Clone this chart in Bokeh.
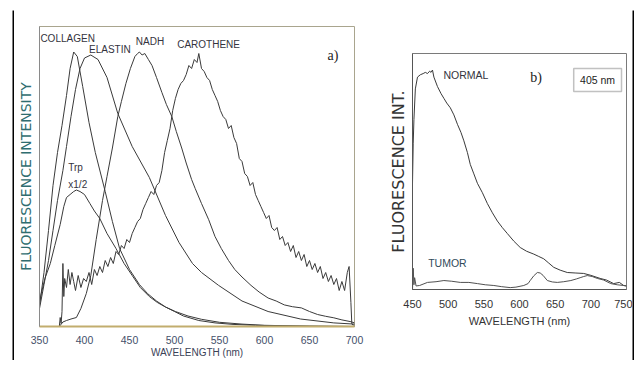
from bokeh.plotting import figure
from bokeh.models import Range1d, FixedTicker, Label, BoxAnnotation, Div
from bokeh.layouts import row, column
from bokeh.embed import file_html
from bokeh.resources import INLINE

# ---------------- Panel a) : emission spectra of tissue fluorophores ----------------
coll_wl = [350, 355, 360, 365, 370, 375, 380, 384, 388, 392, 398, 405, 412, 423, 431, 439, 450, 461,
           470, 480, 490, 501, 515, 530, 550, 575, 600, 650, 700]
coll_v = [0.07, 0.18, 0.32, 0.47, 0.58, 0.67, 0.77, 0.86, 0.915, 0.90, 0.80, 0.68, 0.58, 0.45, 0.35,
          0.26, 0.19, 0.14, 0.11, 0.085, 0.065, 0.05, 0.035, 0.024, 0.014, 0.008, 0.004, 0.001, 0.0]

el_wl = [350, 355, 360, 365, 370, 376, 380, 385, 390, 395, 400, 407, 415, 425, 437, 453, 472, 490,
         505, 520, 530, 549, 575, 604, 640, 677, 700]
el_v = [0.06, 0.14, 0.22, 0.32, 0.42, 0.52, 0.60, 0.70, 0.79, 0.86, 0.895, 0.905, 0.89, 0.83, 0.71,
        0.60, 0.497, 0.37, 0.28, 0.21, 0.18, 0.137, 0.085, 0.05, 0.025, 0.012, 0.008]

nadh_wl = [372, 376, 380, 385, 391, 396, 402, 407, 413, 420, 425, 431, 437, 441, 446, 451, 456, 459,
           461, 464, 467, 471, 475, 480, 486, 491, 497, 502, 508, 513, 519, 523, 530, 538, 545, 552,
           560, 567, 575, 585, 594, 604, 613, 622, 631, 641, 650, 659, 668, 677, 686, 696, 700]
nadh_v = [0.0, 0.015, 0.02, 0.025, 0.03, 0.06, 0.11, 0.17, 0.29, 0.42, 0.50, 0.595, 0.70, 0.75, 0.81,
          0.86, 0.90, 0.91, 0.915, 0.905, 0.91, 0.89, 0.87, 0.83, 0.78, 0.74, 0.70, 0.65, 0.595, 0.545,
          0.49, 0.46, 0.41, 0.356, 0.30, 0.26, 0.22, 0.19, 0.165, 0.137, 0.115, 0.095, 0.085, 0.072,
          0.066, 0.062, 0.05, 0.04, 0.034, 0.029, 0.022, 0.016, 0.012]

car_wl = [372, 373, 374, 375, 376, 377, 378, 380, 382, 384, 386, 388, 390, 393, 396, 399, 402, 405,
          408, 411, 414, 417, 420, 423, 426, 429, 432, 435, 438, 441, 444, 447, 450, 453, 456, 459,
          462, 465, 468, 471, 474, 477, 480, 483, 486, 489, 492, 495, 498, 501, 504, 507, 510, 513,
          516, 519, 522, 525, 527, 530, 533, 536, 539, 542, 545, 548, 551, 554, 557, 560, 563, 566,
          569, 572, 575, 578, 581, 584, 587, 590, 593, 596, 599, 602, 605, 608, 611, 614, 617, 620,
          623, 626, 629, 632, 635, 638, 641, 644, 647, 650, 653, 656, 659, 662, 665, 668, 671, 674,
          677, 680, 683, 686, 689, 692, 694, 696, 697, 698, 700]
car_v = [0.0, 0.03, 0.01, 0.05, 0.21, 0.10, 0.16, 0.13, 0.19, 0.14, 0.18, 0.15, 0.12, 0.17, 0.13, 0.16,
         0.15, 0.18, 0.14, 0.19, 0.17, 0.20, 0.18, 0.22, 0.20, 0.23, 0.21, 0.25, 0.24, 0.27, 0.26, 0.29,
         0.28, 0.31, 0.33, 0.35, 0.36, 0.39, 0.41, 0.43, 0.45, 0.44, 0.47, 0.48, 0.52, 0.58, 0.62, 0.66,
         0.72, 0.76, 0.79, 0.81, 0.82, 0.84, 0.87, 0.86, 0.89, 0.88, 0.91, 0.86, 0.85, 0.83, 0.82, 0.79,
         0.77, 0.75, 0.72, 0.70, 0.69, 0.66, 0.67, 0.63, 0.61, 0.56, 0.55, 0.51, 0.50, 0.47, 0.48, 0.44,
         0.42, 0.40, 0.38, 0.36, 0.37, 0.33, 0.32, 0.33, 0.29, 0.30, 0.27, 0.28, 0.25, 0.27, 0.23, 0.25,
         0.22, 0.24, 0.20, 0.22, 0.19, 0.21, 0.18, 0.20, 0.16, 0.18, 0.15, 0.17, 0.14, 0.16, 0.12, 0.15,
         0.12, 0.18, 0.20, 0.08, 0.01, 0.005, 0.005]

trp_wl = [350, 352, 356, 362, 367, 373, 377, 380, 384, 388, 391, 395, 400, 406, 411, 417, 425, 435,
          444, 453, 462, 472, 481, 490, 500, 510, 527, 545, 565, 590, 620, 660, 700]
trp_v = [0.08, 0.11, 0.16, 0.21, 0.27, 0.34, 0.40, 0.43, 0.44, 0.45, 0.455, 0.45, 0.44, 0.41, 0.385,
         0.36, 0.31, 0.26, 0.21, 0.17, 0.13, 0.10, 0.08, 0.065, 0.05, 0.035, 0.02, 0.012, 0.007, 0.004,
         0.002, 0.001, 0.0]

ticks_a = [350, 400, 450, 500, 550, 600, 650, 700]

# ---------------- Panel b) : tissue spectra at 405 nm excitation ----------------
normal_wl = [450, 451, 452, 454, 457, 461, 465, 468, 471, 474, 476, 478, 480, 485, 490, 494, 498, 503,
             508, 513, 518, 522, 527, 531, 536, 541, 548, 555, 562, 569, 576, 583, 592, 601, 610, 620,
             627, 634, 641, 648, 657, 667, 678, 690, 700, 713, 722, 732, 740, 746, 750]
normal_v = [0.45, 0.62, 0.72, 0.85, 0.90, 0.91, 0.915, 0.92, 0.915, 0.925, 0.92, 0.93, 0.90, 0.86, 0.83,
            0.81, 0.79, 0.77, 0.74, 0.70, 0.665, 0.63, 0.58, 0.53, 0.49, 0.45, 0.41, 0.364, 0.325, 0.29,
            0.262, 0.237, 0.205, 0.178, 0.162, 0.15, 0.14, 0.13, 0.112, 0.094, 0.082, 0.072, 0.07,
            0.068, 0.06, 0.047, 0.04, 0.025, 0.03, 0.017, 0.015]

tumor_wl = [450, 451, 452, 453, 455, 460, 471, 483, 494, 505, 517, 529, 541, 552, 564, 575, 587, 595,
            606, 612, 615, 620, 625, 629, 633, 639, 646, 653, 662, 672, 680, 685, 690, 695, 702, 709,
            718, 728, 737, 746, 750]
tumor_v = [0.0, 0.09, 0.02, 0.05, 0.015, 0.017, 0.03, 0.033, 0.038, 0.035, 0.03, 0.03, 0.025, 0.02,
           0.017, 0.012, 0.008, 0.01, 0.017, 0.025, 0.038, 0.058, 0.072, 0.07, 0.06, 0.038, 0.032, 0.03,
           0.033, 0.038, 0.045, 0.05, 0.055, 0.059, 0.055, 0.047, 0.04, 0.025, 0.02, 0.017, 0.015]

ticks_b = [450, 500, 550, 600, 650, 700, 750]

SANS = "Liberation Sans"
LINE = "#3a3a3a"
TXT = "#33333d"

# ---------------- figure a ----------------
p1 = figure(width=356, height=350, output_backend="svg", toolbar_location=None,
            x_range=Range1d(350, 700), y_range=Range1d(0, 1),
            min_border_left=22, min_border_right=16, min_border_top=16, min_border_bottom=28)
p1.frame_align = False
p1.margin = 0
p1.grid.visible = False
p1.outline_line_color = "#a9a58e"

for xs, ys in [(coll_wl, coll_v), (el_wl, el_v), (nadh_wl, nadh_v), (car_wl, car_v), (trp_wl, trp_v)]:
    p1.line(xs, ys, line_color=LINE, line_width=1)

xa = p1.xaxis[0]
xa.ticker = FixedTicker(ticks=ticks_a)
xa.axis_line_color = "#c2ad6e"
xa.axis_line_width = 2
xa.major_tick_line_color = None
xa.minor_tick_line_color = None
xa.major_label_standoff = 3
xa.major_label_text_font = SANS
xa.major_label_text_font_size = "10.5px"
xa.major_label_text_color = "#45506a"
xa.axis_label = "WAVELENGTH (nm)"
xa.axis_label_standoff = 0
xa.axis_label_text_font = SANS
xa.axis_label_text_font_size = "10px"
xa.axis_label_text_font_style = "normal"
xa.axis_label_text_color = "#3a4256"

ya = p1.yaxis[0]
ya.ticker = FixedTicker(ticks=[])
ya.axis_line_color = "#8a8a8a"
ya.minor_tick_line_color = None
ya.axis_label = "FLUORESCENCE INTENSITY"
ya.axis_label_standoff = 6
ya.axis_label_text_font = "DejaVu Sans"
ya.axis_label_text_font_size = "14px"
ya.axis_label_text_font_style = "normal"
ya.axis_label_text_color = "#2f6d70"

for txt, x, y in [("COLLAGEN", 351, 0.96), ("ELASTIN", 405, 0.925), ("NADH", 457, 0.95),
                  ("CAROTHENE", 503, 0.94), ("Trp", 382, 0.53), ("x1/2", 382, 0.474)]:
    p1.add_layout(Label(x=x, y=y, text=txt, text_font=SANS, text_font_size="10px",
                        text_color=TXT, text_baseline="middle", text_align="left"))
p1.add_layout(Label(x=670, y=0.905, text="a)", text_font="Liberation Serif", text_font_size="14px",
                    text_color="#222222", text_baseline="middle", text_align="left"))

# ---------------- figure b ----------------
p2 = figure(width=262, height=350, output_backend="svg", toolbar_location=None,
            x_range=Range1d(450, 750), y_range=Range1d(0, 1),
            min_border_left=42, min_border_right=6, min_border_top=43, min_border_bottom=71)
p2.frame_align = False
p2.margin = 0
p2.grid.visible = False
p2.outline_line_color = "#7a7a7a"

p2.line(normal_wl, normal_v, line_color=LINE, line_width=1)
p2.line(tumor_wl, tumor_v, line_color="#505050", line_width=1)

xb = p2.xaxis[0]
xb.ticker = FixedTicker(ticks=ticks_b)
xb.axis_line_color = "#555555"
xb.major_tick_line_color = None
xb.minor_tick_line_color = None
xb.major_label_standoff = 4
xb.major_label_text_font = SANS
xb.major_label_text_font_size = "11px"
xb.major_label_text_color = "#333333"
xb.axis_label = "WAVELENGTH (nm)"
xb.axis_label_standoff = 4
xb.axis_label_text_font = SANS
xb.axis_label_text_font_size = "11px"
xb.axis_label_text_font_style = "normal"
xb.axis_label_text_color = "#333333"

yb = p2.yaxis[0]
yb.ticker = FixedTicker(ticks=[])
yb.axis_line_color = "#555555"
yb.minor_tick_line_color = None
yb.axis_label = "FLUORESCENCE INT."
yb.axis_label_standoff = 5
yb.axis_label_text_font = "DejaVu Sans"
yb.axis_label_text_font_size = "16px"
yb.axis_label_text_font_style = "normal"
yb.axis_label_text_color = "#333333"

p2.add_layout(Label(x=493.5, y=0.907, text="NORMAL", text_font=SANS, text_font_size="10.5px",
                    text_color=TXT, text_baseline="middle"))
p2.add_layout(Label(x=472, y=0.114, text="TUMOR", text_font=SANS, text_font_size="10.5px",
                    text_color="#2f4a5a", text_baseline="middle"))
p2.add_layout(Label(x=615, y=0.9, text="b)", text_font="Liberation Serif", text_font_size="14px",
                    text_color="#222222", text_baseline="middle"))
p2.add_layout(BoxAnnotation(left=676, right=743, bottom=0.839, top=0.936, fill_color=None,
                            line_color="#333333", line_width=1.5))
p2.add_layout(Label(x=709.5, y=0.889, text="405 nm", text_font=SANS, text_font_size="10.5px",
                    text_color="#222222", text_baseline="middle", text_align="center"))


# ---------------- outer black frame, built from tiny black canvases ----------------
def black_bar(w, h, margin=0):
    b = figure(width=w, height=h, output_backend="svg", toolbar_location=None,
               min_border=0, x_axis_location=None, y_axis_location=None,
               border_fill_color="black", background_fill_color="black")
    b.outline_line_color = None
    b.grid.visible = False
    b.frame_align = False
    b.margin = margin
    return b


top_bar = black_bar(622, 2, margin=(8, 0, 0, 12))
left_gap = Div(width=12, height=350, margin=0)
left_bar = black_bar(2, 350)
right_bar = black_bar(2, 350)

layout = column(top_bar, row(left_gap, left_bar, p1, p2, right_bar, spacing=0), spacing=0)
open("out.html", "w").write(file_html(layout, INLINE))
